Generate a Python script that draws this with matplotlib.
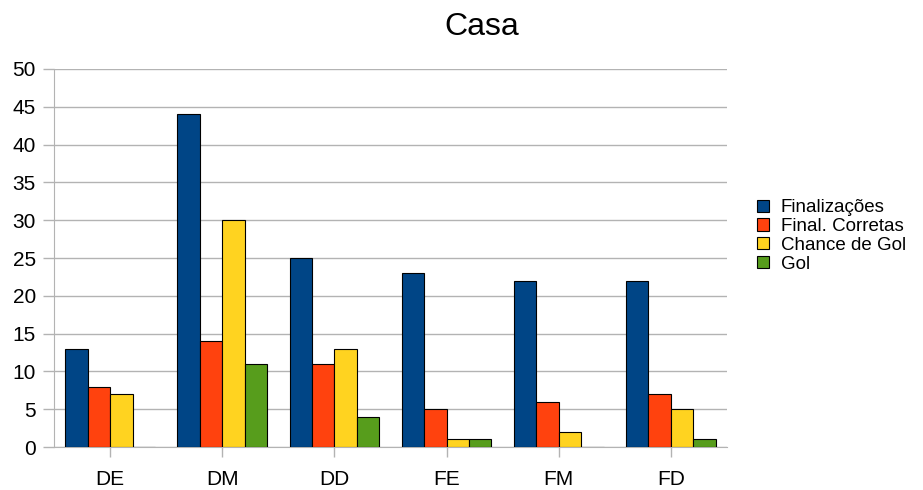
import numpy as np
import matplotlib.pyplot as plt

plt.rcParams['font.family'] = ['Liberation Sans', 'DejaVu Sans']

categories = ["DE", "DM", "DD", "FE", "FM", "FD"]
series_names = ["Finalizações", "Final. Corretas", "Chance de Gol", "Gol"]
finalizacoes = [13, 44, 25, 23, 22, 22]
final_corretas = [8, 14, 11, 5, 6, 7]
chance_de_gol = [7, 30, 13, 1, 2, 5]
gol = [0, 11, 4, 1, 0, 1]
colors = ["#004586", "#ff420e", "#ffd320", "#579d1c"]

fig = plt.figure(figsize=(9.23, 4.9), dpi=100)
ax = fig.add_axes([54 / 923, 43 / 490, 673 / 923, 378 / 490])

x = np.arange(len(categories))
width = 0.2
all_series = [finalizacoes, final_corretas, chance_de_gol, gol]
for i, (vals, name) in enumerate(zip(all_series, series_names)):
    ax.bar(x + (i - 1.5) * width, vals, width, color=colors[i],
           edgecolor="black", linewidth=0.8, label=name, zorder=3)

ax.set_xlim(-0.5, len(categories) - 0.5)
ax.set_ylim(0, 50)
ax.set_yticks(range(0, 51, 5))
ax.set_xticks(x)
ax.set_xticklabels(categories)
ax.tick_params(axis="both", labelsize=15, color="#b3b3b3", width=1)
ax.tick_params(axis="y", length=8, pad=5)
ax.tick_params(axis="x", length=7.5, pad=9)
ax.grid(axis="y", color="#b3b3b3", linewidth=1, zorder=0)
for s in ["top", "right"]:
    ax.spines[s].set_visible(False)
for s in ["left", "bottom"]:
    ax.spines[s].set_color("#b3b3b3")

fig.text(482 / 923, 1 - 27 / 490, "Casa", ha="center", va="center",
         fontsize=23)

fig.legend(loc="center left", bbox_to_anchor=(757 / 923, 1 - 236 / 490),
           frameon=False, fontsize=13.5, handlelength=0.62, handleheight=0.62,
           handletextpad=0.64, labelspacing=0.1, borderaxespad=0,
           borderpad=0)

fig.savefig("out.png", dpi=100)
